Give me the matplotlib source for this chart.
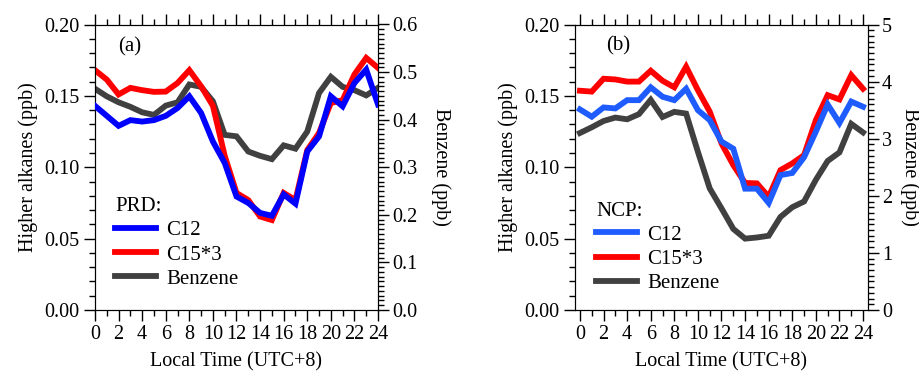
import matplotlib
matplotlib.use("Agg")
import matplotlib.pyplot as plt
from matplotlib.lines import Line2D
from matplotlib.ticker import MultipleLocator, FormatStrFormatter

plt.rcParams['font.family'] = ['Liberation Serif', 'DejaVu Serif']
plt.rcParams['font.size'] = 14.5

hours = list(range(25))

# Panel (a) PRD
prd_c12 = [0.143, 0.136, 0.129, 0.133, 0.132, 0.133, 0.136, 0.1415, 0.1497, 0.138, 0.118, 0.103,
           0.0795, 0.075, 0.068, 0.066, 0.081, 0.0745, 0.111, 0.1216, 0.1497, 0.1427, 0.159, 0.1684, 0.144]
prd_c15x3 = [0.168, 0.1614, 0.151, 0.1556, 0.154, 0.1528, 0.153, 0.159, 0.168, 0.1567, 0.143, 0.108,
             0.082, 0.077, 0.0655, 0.063, 0.082, 0.077, 0.112, 0.124, 0.145, 0.147, 0.165, 0.1766, 0.1696]
prd_benzene = [0.465, 0.449, 0.4365, 0.427, 0.4155, 0.41, 0.4295, 0.4365, 0.474, 0.469, 0.4386, 0.368,
               0.365, 0.333, 0.324, 0.317, 0.346, 0.339, 0.375, 0.456, 0.49, 0.469, 0.462, 0.451, 0.467]

# Panel (b) NCP
ncp_c12 = [0.1405, 0.1354, 0.1419, 0.1412, 0.147, 0.147, 0.156, 0.1494, 0.147, 0.155, 0.140, 0.133,
           0.118, 0.113, 0.085, 0.085, 0.075, 0.0945, 0.096, 0.107, 0.125, 0.144, 0.131, 0.146, 0.1424]
ncp_c15x3 = [0.1536, 0.153, 0.162, 0.1615, 0.160, 0.160, 0.1676, 0.1606, 0.156, 0.1704, 0.154, 0.139,
             0.1167, 0.1015, 0.089, 0.0887, 0.0793, 0.098, 0.1027, 0.1085, 0.133, 0.1505, 0.1475, 0.1645, 0.155]
ncp_benzene = [3.10, 3.20, 3.31, 3.37, 3.34, 3.43, 3.68, 3.38, 3.47, 3.44, 2.77, 2.13,
               1.78, 1.42, 1.25, 1.27, 1.30, 1.63, 1.80, 1.90, 2.28, 2.61, 2.76, 3.26, 3.11]

xticks = list(range(0, 25, 2))
xlabel = "Local Time (UTC+8)"
ylabel_left = "Higher alkanes (ppb)"
ylabel_right = "Benzene (ppb)"

fig = plt.figure(figsize=(9.2, 3.76), dpi=100)
bottom, top = 1 - 310 / 376, 1 - 24.5 / 376
h = top - bottom
ax_a = fig.add_axes([95 / 920, bottom, (378 - 95) / 920, h])
ax_b = fig.add_axes([575 / 920, bottom, (868 - 575) / 920, h])


def style(ax, axr, c12, c15, benz, c12color, bmax, bmajor, bminor, xlim, panel, panel_xy,
          region, leg_anchor, rpad):
    lw = 4.2
    ax.plot(hours, c12, color=c12color, lw=lw, solid_joinstyle='miter', zorder=3)
    ax.plot(hours, c15, color='#ff0000', lw=lw, solid_joinstyle='miter', zorder=2)
    axr.plot(hours, benz, color='#404040', lw=lw, solid_joinstyle='miter')
    ax.set_zorder(axr.get_zorder() + 1)
    ax.patch.set_visible(False)
    ax.set_xlim(*xlim)
    ax.set_ylim(0, 0.2)
    axr.set_ylim(0, bmax)
    ax.set_xticks(xticks)
    ax.xaxis.set_minor_locator(MultipleLocator(1))
    ax.yaxis.set_major_locator(MultipleLocator(0.05))
    ax.yaxis.set_minor_locator(MultipleLocator(0.01))
    ax.yaxis.set_major_formatter(FormatStrFormatter('%.2f'))
    axr.yaxis.set_major_locator(MultipleLocator(bmajor))
    axr.yaxis.set_minor_locator(MultipleLocator(bminor))
    ax.tick_params(axis='x', which='both', direction='out', top=True, bottom=True, pad=3)
    ax.tick_params(axis='y', which='both', direction='out', left=True, right=False)
    ax.tick_params(which='major', length=8, width=1)
    ax.tick_params(which='minor', length=4, width=1)
    axr.tick_params(which='major', direction='out', length=8, width=1, pad=2)
    axr.tick_params(which='minor', direction='out', length=4, width=1)
    ax.set_xlabel(xlabel, labelpad=6)
    ax.set_ylabel(ylabel_left, labelpad=4)
    axr.set_ylabel(ylabel_right, rotation=270, labelpad=rpad)
    ax.text(panel_xy[0], panel_xy[1], panel, transform=ax.transAxes, fontsize=15, va='center')
    handles = [Line2D([], [], color=c12color, lw=lw),
               Line2D([], [], color='#ff0000', lw=lw),
               Line2D([], [], color='#404040', lw=lw)]
    ax.legend(handles, ['C12', 'C15*3', 'Benzene'], title=region + ':',
              loc='upper left', bbox_to_anchor=leg_anchor, frameon=False,
              fontsize=15, title_fontsize=15, handlelength=1.95, handletextpad=0.5,
              labelspacing=0.22, borderpad=0, borderaxespad=0, alignment='left')


axr_a = ax_a.twinx()
style(ax_a, axr_a, prd_c12, prd_c15x3, prd_benzene, '#0000ff', 0.6, 0.1, 0.01,
      (0, 24), '(a)', (0.08, 0.92), 'PRD', (0.072, 0.395), 24)
axr_a.yaxis.set_major_formatter(FormatStrFormatter('%.1f'))

axr_b = ax_b.twinx()
style(ax_b, axr_b, ncp_c12, ncp_c15x3, ncp_benzene, '#1f5cff', 5, 1, 0.1,
      (-0.42, 24.42), '(b)', (0.105, 0.925), 'NCP', (0.072, 0.38), 20)
axr_b.yaxis.set_major_formatter(FormatStrFormatter('%d'))

fig.savefig('out.png', dpi=100)
